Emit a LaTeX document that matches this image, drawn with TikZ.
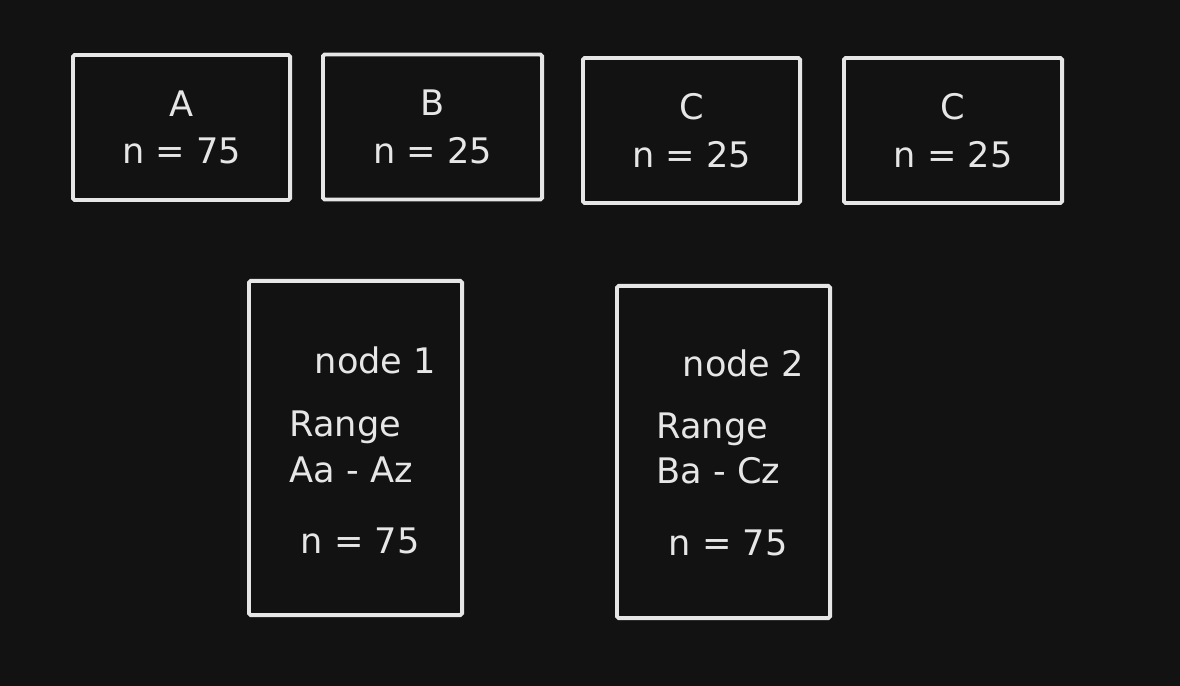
\documentclass[tikz,border=0pt]{standalone}
\usepackage{fontspec}
\setmainfont{DejaVu Sans}
\usetikzlibrary{positioning}
\definecolor{bgdark}{HTML}{121212}
\definecolor{chalk}{HTML}{E6E6E6}

\begin{document}
\begin{tikzpicture}[x=0.01cm,y=-0.01cm,
    box/.style={draw=chalk, line width=1.1pt, rounded corners=0.5pt, inner sep=0pt,
      text=chalk, align=center, font=\fontsize{10}{13.5}\selectfont},
    small/.style={box, minimum width=2.17cm, minimum height=1.45cm},
    tall/.style={box, minimum width=2.13cm, minimum height=3.33cm},
    lbl/.style={text=chalk, anchor=west, inner sep=0pt, font=\fontsize{10}{12}\selectfont}]
    \fill[bgdark] (0,0) rectangle (1180,686);
    % top row
    \node[small] (boxa) at (181.5,127.5) {A\\n = 75};
    \node[small, minimum width=2.19cm] (boxb) at (432.5,127) {B\\n = 25};
    \node[small] (boxc) at (691.5,130.5) {C\\n = 25};
    \node[small, minimum width=2.18cm] (boxd) at (953,130.5) {C\\n = 25};
    % bottom row
    \node[tall, minimum height=3.34cm] (nodeone) at (355.5,448) {};
    \node[tall, minimum height=3.32cm] (nodetwo) at (723.5,452) {};
    % text in node 1
    \node[lbl] (onetitle) at (314,360) {node 1};
    \node[lbl] (onerange) at (289,427) {Range};
    \node[lbl] (onekeys) at (289,470) {Aa - Az};
    \node[lbl] (onecount) at (300,541) {n = 75};
    % text in node 2
    \node[lbl] (twotitle) at (682,363) {node 2};
    \node[lbl] (tworange) at (656,429) {Range};
    \node[lbl] (twokeys) at (656,471) {Ba - Cz};
    \node[lbl] (twocount) at (668,543) {n = 75};
\end{tikzpicture}
\end{document}
